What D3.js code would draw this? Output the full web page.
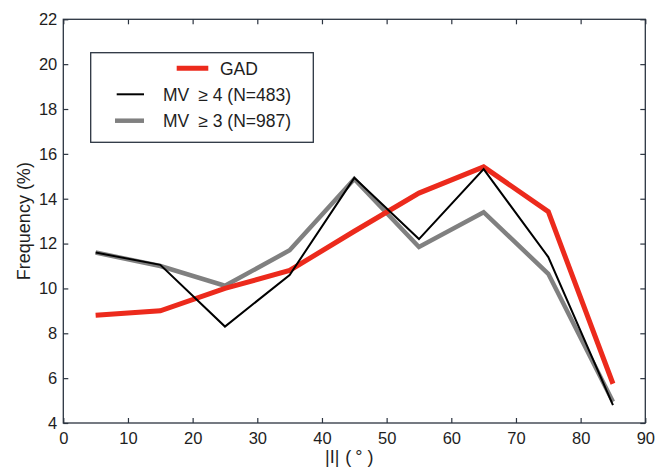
<!DOCTYPE html>
<html>
<head>
<meta charset="utf-8">
<script src="https://cdn.jsdelivr.net/npm/d3@7"></script>
<style>
  html, body { margin: 0; padding: 0; background: #fff; }
  svg { display: block; font-family: "Liberation Sans", Arial, Helvetica, sans-serif; }
</style>
</head>
<body>
<svg id="chart" width="656" height="468"></svg>
<script>
// ---- Data ----
const angles = [5, 15, 25, 35, 45, 55, 65, 75, 85];
const gad  = [8.8, 9.0, 10.0, 10.8, 12.55, 14.25, 15.42, 13.42, 5.75];
const mv4  = [11.6, 11.05, 8.3, 10.6, 14.93, 12.2, 15.32, 11.4, 4.8];
const mv3  = [11.6, 11.0, 10.12, 11.7, 14.88, 11.85, 13.4, 10.65, 4.95];
const xTicks = [0, 10, 20, 30, 40, 50, 60, 70, 80, 90];
const yTicks = [4, 6, 8, 10, 12, 14, 16, 18, 20, 22];
const seriesNames = ["GAD", "MV \u2265 4 (N=483)", "MV \u2265 3 (N=987)"];

// ---- Layout ----
const svg = d3.select("#chart");
const L = 63.3, R = 645.3, T = 19.3, B = 423;
const x = d3.scaleLinear().domain([0, 90]).range([L, R]);
const y = d3.scaleLinear().domain([4, 22]).range([B, T]);
const axisColor = "#2b3440";
const textColor = "#1e1e1e";

// Box
svg.append("rect").attr("x", L).attr("y", T).attr("width", R - L).attr("height", B - T)
  .attr("fill", "#fff").attr("stroke", axisColor).attr("stroke-width", 1.3);

// Axes (inward ticks on all sides)
function styleAxis(g) {
  g.select(".domain").remove();
  g.selectAll(".tick line").attr("stroke", axisColor).attr("stroke-width", 1.2);
  g.selectAll(".tick text").attr("fill", textColor).style("font-size", "16.5px")
    .style("font-family", "'Liberation Sans', Arial, sans-serif");
}
svg.append("g").attr("transform", `translate(0,${B})`)
  .call(d3.axisBottom(x).tickValues(xTicks).tickSize(-5).tickPadding(9).tickFormat(d3.format("d")))
  .call(styleAxis);
svg.append("g").attr("transform", `translate(0,${T})`)
  .call(d3.axisTop(x).tickValues(xTicks).tickSize(-5).tickFormat(""))
  .call(styleAxis);
svg.append("g").attr("transform", `translate(${L},0)`)
  .call(d3.axisLeft(y).tickValues(yTicks).tickSize(-5).tickPadding(6).tickFormat(d3.format("d")))
  .call(styleAxis);
svg.append("g").attr("transform", `translate(${R},0)`)
  .call(d3.axisRight(y).tickValues(yTicks).tickSize(-5).tickFormat(""))
  .call(styleAxis);

// Lines
const line = (vals) => d3.line().x((d, i) => x(angles[i])).y(d => y(d))(vals);
const styles = [
  { data: mv3, color: "#808080", width: 4.5 },
  { data: gad, color: "#ec2a1c", width: 5 },
  { data: mv4, color: "#000", width: 2 }
];
styles.forEach(s => {
  svg.append("path").attr("d", line(s.data)).attr("fill", "none")
    .attr("stroke", s.color).attr("stroke-width", s.width)
    .attr("stroke-linejoin", "miter").attr("stroke-linecap", "butt");
});

// Legend
svg.append("rect").attr("x", 90.7).attr("y", 52.7).attr("width", 222.6).attr("height", 89.6)
  .attr("fill", "#fff").attr("stroke", axisColor).attr("stroke-width", 1.3);
const leg = [
  { name: seriesNames[0], color: "#ec2a1c", width: 5, x1: 176.7, x2: 208.3, ly: 68.3, tx: 220, ty: 74.5 },
  { name: seriesNames[1], color: "#000", width: 2, x1: 116.7, x2: 144, ly: 94.3, tx: 163, ty: 100.5 },
  { name: seriesNames[2], color: "#808080", width: 4.5, x1: 115, x2: 144, ly: 120.7, tx: 163, ty: 127 }
];
leg.forEach(d => {
  svg.append("line").attr("x1", d.x1).attr("x2", d.x2).attr("y1", d.ly).attr("y2", d.ly)
    .attr("stroke", d.color).attr("stroke-width", d.width);
  const t = svg.append("text").attr("x", d.tx).attr("y", d.ty).attr("fill", textColor)
    .style("font-size", "17.5px");
  const parts = d.name.split(" \u2265 ");
  if (parts.length === 2) {
    t.append("tspan").text(parts[0]);
    t.append("tspan").attr("dx", 9).text("\u2265 " + parts[1]);
  } else {
    t.text(d.name);
  }
});

// Axis labels
const xl = svg.append("text").attr("x", 325).attr("y", 462.5)
  .attr("fill", textColor).style("font-size", "18px");
xl.append("tspan").text("|I|");
xl.append("tspan").attr("dx", 6).text("(");
xl.append("tspan").attr("dx", 4).text("\u00b0");
xl.append("tspan").attr("dx", 5).text(")");
svg.append("text").attr("transform", `translate(30,${(T + B) / 2}) rotate(-90)`)
  .attr("text-anchor", "middle").attr("fill", textColor).style("font-size", "18px")
  .text("Frequency (%)");
</script>
</body>
</html>
